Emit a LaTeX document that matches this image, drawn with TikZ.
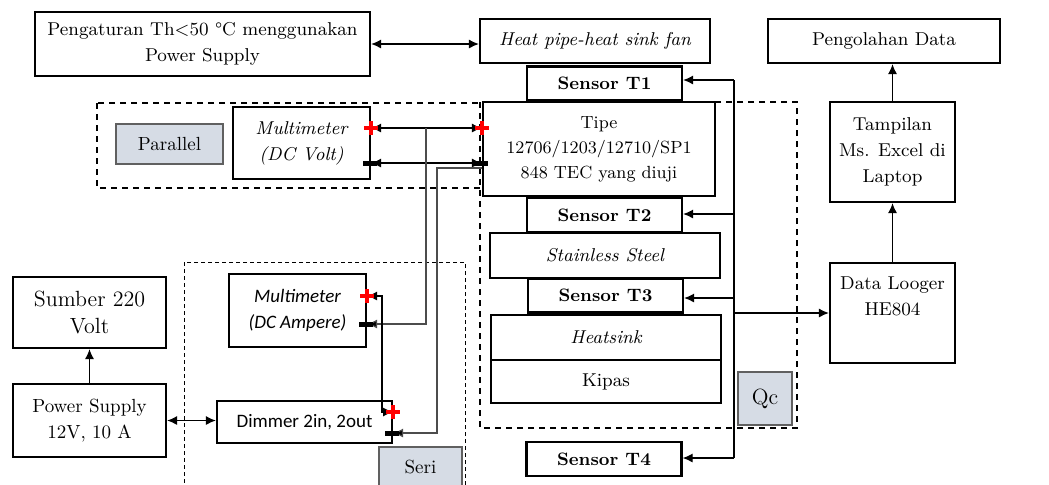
\documentclass[tikz,border=0pt]{standalone}
\usepackage{fontspec}
\newfontfamily\calibri{Carlito}
\usetikzlibrary{arrows.meta}
\definecolor{tagfill}{HTML}{D6DCE5}

\begin{document}
\begin{tikzpicture}[x=0.5pt, y=-0.5pt, >={Latex[length=5pt,width=4.5pt]},
    box/.style={draw, line width=1.1pt, align=center, inner sep=1pt,
      font=\fontsize{9.3}{13}\selectfont},
    itbox/.style={box, font=\fontsize{9.3}{13}\selectfont\itshape},
    sensorbox/.style={box, font=\fontsize{9}{11}\selectfont\bfseries,
      minimum width=77.5pt, minimum height=17pt},
    tagbox/.style={draw=gray!75!black, line width=0.6pt, fill=tagfill,
      font=\fontsize{9.5}{11}\selectfont},
    wire/.style={line width=0.6pt},
    gwire/.style={line width=0.6pt, draw=gray!60!black},
    groupline/.style={line width=1.2pt, dash pattern=on 3pt off 2.5pt},
    seriline/.style={line width=0.5pt, dash pattern=on 2pt off 1.5pt}]
    \useasboundingbox (0,0) rectangle (1049,484);

    % Dashed groups
    \draw[groupline] (97,103) rectangle (483,188);
    \draw[groupline] (480,102) rectangle (797,428);
    \draw[seriline] (184,262) rectangle (465,492);

    % Top row
    \node[box, minimum width=167.5pt, minimum height=32pt] (atur) at (202.5,44)
        {Pengaturan Th<50 \textdegree C menggunakan\\Power Supply};
    \node[itbox, minimum width=115pt, minimum height=22pt] (pipe) at (595,41) {Heat pipe-heat sink fan};
    \node[box, minimum width=116pt, minimum height=22pt] (olah) at (884,41) {Pengolahan Data};

    % TEC stack
    \node[sensorbox] (t1) at (604.5,83.5) {Sensor T1};
    \node[box, font=\fontsize{8.8}{12.5}\selectfont, minimum width=116pt, minimum height=47pt] (tec) at (599,149)
        {Tipe\\12706/1203/12710/SP1\\848 TEC yang diuji};
    \node[sensorbox] (t2) at (604.5,215) {Sensor T2};
    \node[itbox, minimum width=115pt, minimum height=22.5pt] (steel) at (605,255.5) {Stainless Steel};
    \node[sensorbox] (t3) at (605.5,295.5) {Sensor T3};
    \node[itbox, minimum width=115pt, minimum height=22.5pt] (sink) at (606,337.5) {Heatsink};
    \node[box, minimum width=115pt, minimum height=21.5pt] (kipas) at (606,381.5) {Kipas};
    \node[tagbox, font=\fontsize{11}{13}\selectfont, minimum width=27pt, minimum height=26.5pt] (qc) at (765,398.5) {Qc};
    \node[sensorbox] (t4) at (604,459) {Sensor T4};

    % Data side
    \node[box, minimum width=62.5pt, minimum height=50pt] (excel) at (892.5,152) {Tampilan\\Ms. Excel di\\Laptop};
    \node[box, minimum width=62.5pt, minimum height=50pt] (logger) at (892.5,313) {Data Looger\\HE804\\[4pt]};

    % Measuring side
    \node[tagbox, minimum width=53.5pt, minimum height=20pt] (paralel) at (169.5,144) {Parallel};
    \node[itbox, minimum width=68.5pt, minimum height=36pt] (mmv) at (301.5,143) {Multimeter\\(DC Volt)};
    \node[box, font=\fontsize{9.5}{13}\calibri\itshape, minimum width=68.5pt, minimum height=36.5pt] (mma) at (297.5,310.5)
        {Multimeter\\(DC Ampere)};
    \node[box, font=\fontsize{9.5}{12}\calibri, minimum width=87.5pt, minimum height=21pt] (dimmer) at (304.5,422)
        {Dimmer 2in, 2out};
    \node[tagbox, minimum width=41.5pt, minimum height=20pt] (seri) at (420.5,467) {Seri};
    \node[box, font=\fontsize{11}{13.5}\selectfont, minimum width=76.5pt, minimum height=35.5pt] (sumber) at (89.5,312.5)
        {Sumber 220\\Volt};
    \node[box, font=\fontsize{9.5}{13}\selectfont, minimum width=76.5pt, minimum height=36.5pt] (psu) at (89.5,420.5)
        {Power Supply\\12V, 10 A};

    % Plain links
    \draw[<->, wire] (atur.east) -- (atur.east -| pipe.west);
    \draw[->, wire] (excel.north) -- (excel.north |- olah.south);
    \draw[->, wire] (logger.north) -- (excel.south);
    \draw[->, wire] (psu.north) -- (sumber.south);
    \draw[<->, wire] (psu.east) -- (psu.east -| dimmer.west);

    % Sensor bus
    \coordinate (bus1) at (734,80);
    \coordinate (bus2) at (734,214);
    \coordinate (bus3) at (734,298);
    \coordinate (bus4) at (734,458);
    \coordinate (busout) at (734,313);
    \draw[wire] (bus1) -- (bus4);
    \foreach \n in {1,...,4}
        \draw[->, wire] (bus\n) -- (bus\n -| t\n.east);
    \draw[->, wire] (busout) -- (busout -| logger.west);

    % Probe points
    \coordinate (vplus) at (mmv.east |- 0,128);
    \coordinate (vminus) at (mmv.east |- 0,163);
    \coordinate (tplus) at (tec.west |- 0,128);
    \coordinate (tminus) at (tec.west |- 0,163);
    \coordinate (tecout) at (tec.west |- 0,168);
    \coordinate (aplus) at (mma.east |- 0,296);
    \coordinate (aminus) at (mma.east |- 0,324);
    \coordinate (dplus) at (dimmer.east |- 0,412);
    \coordinate (dminus) at (dimmer.east |- 0,433);
    \coordinate (tap) at (426,128);

    % Probe wiring
    \draw[<->, wire] (vplus) -- (tplus);
    \draw[<->, wire] (vminus) -- (tminus);
    \draw[gwire, -{Latex[length=5pt,width=4.5pt,fill=black]}] (tap) |- (aminus);
    \draw[gwire, -{Latex[length=5pt,width=4.5pt,fill=black]}] (tecout) -- (437,168) |- (dminus);
    \draw[<->, wire] (aplus) -| (382,412) -- (dplus);

    % Terminal marks
    \foreach \p in {vplus,tplus,aplus,dplus}
        \draw[red, line width=2.2pt] ([xshift=-3.5pt]\p) -- ([xshift=3.5pt]\p)
            ([yshift=-3.5pt]\p) -- ([yshift=3.5pt]\p);
    \foreach \p in {vminus,tminus,aminus,dminus}
        \draw[line width=2.5pt] ([xshift=-4pt]\p) -- ([xshift=3pt]\p);
\end{tikzpicture}
\end{document}
